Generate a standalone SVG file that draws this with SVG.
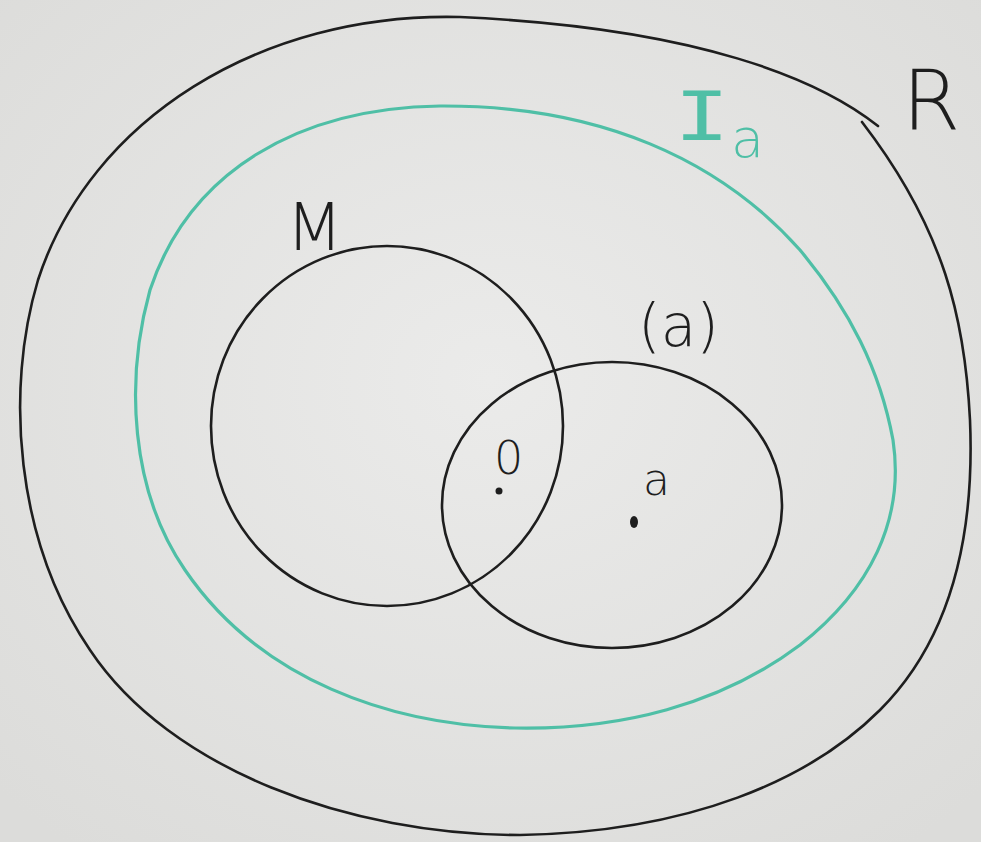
<svg xmlns="http://www.w3.org/2000/svg" width="981" height="842" viewBox="0 0 981 842">
<defs>
<radialGradient id="bg" cx="50%" cy="45%" r="70%">
<stop offset="0" stop-color="#ebebea"/>
<stop offset="1" stop-color="#dcdcda"/>
</radialGradient>
</defs>
<style>
.ink{fill:none;stroke:#1e1e1e;stroke-width:2.6;stroke-linecap:round}
.teal{fill:none;stroke:#4fbfa6;stroke-width:3.2;stroke-linecap:round}
.lbl{font-family:"DejaVu Sans","Liberation Sans",sans-serif;font-weight:300;fill:#1e1e1e}
.tlbl{font-family:"DejaVu Sans","Liberation Sans",sans-serif;font-weight:300;fill:#4fbfa6}
.mono{font-family:"DejaVu Sans Mono","Liberation Mono",monospace;font-weight:300}
</style>
<rect width="981" height="842" fill="url(#bg)"/>
<g id="R">
<path class="ink" d="M878,126 C820,80 700,28 460,17 C260,12 90,120 38,280 C5,390 15,540 90,650 C170,770 350,835 520,835 C690,832 810,780 880,710 C950,640 975,540 970,420 C965,320 945,230 862,122"/>
<text class="lbl" x="902" y="130" font-size="84">R</text>
</g>
<g id="Ia">
<path class="teal" d="M440,106 C600,105 720,160 800,250 C850,310 880,370 893,440 C905,520 870,590 800,645 C720,705 620,730 515,728 C390,725 260,680 185,570 C130,490 125,380 150,290 C190,170 300,108 440,106 Z"/>
<text class="tlbl mono" text-anchor="middle" font-size="68" transform="translate(702,140) scale(1.35,1)">I</text>
<text class="tlbl" x="731" y="157" font-size="54">a</text>
</g>
<g id="M">
<ellipse class="ink" cx="387" cy="426" rx="176" ry="180"/>
<text class="lbl" x="286" y="250" font-size="66">M</text>
</g>
<g id="a-ideal">
<ellipse class="ink" cx="612" cy="505" rx="170" ry="143"/>
<text class="lbl" x="638" y="346" font-size="58">(a)</text>
</g>
<g id="zero">
<text class="lbl" x="494" y="474" font-size="46">0</text>
<circle cx="499" cy="491" r="3.5" fill="#1e1e1e"/>
</g>
<g id="a-elem">
<text class="lbl" x="643" y="495" font-size="44">a</text>
<ellipse cx="634" cy="522" rx="4" ry="6" fill="#1e1e1e"/>
</g>
</svg>
